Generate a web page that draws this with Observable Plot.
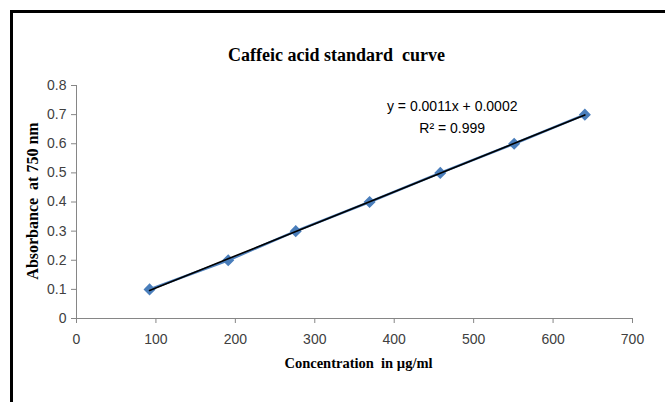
<!DOCTYPE html>
<html>
<head>
<meta charset="utf-8">
<script src="https://cdn.jsdelivr.net/npm/d3@7"></script>
<script src="https://cdn.jsdelivr.net/npm/@observablehq/plot@0.6"></script>
<style>
  html, body { margin: 0; padding: 0; background: #fff; }
  #wrap { position: relative; width: 665px; height: 402px; overflow: hidden; }
  #frame { position: absolute; left: 10px; top: 10px; width: 670px; height: 400px;
           border-left: 3px solid #000; border-top: 3px solid #000; box-sizing: border-box; pointer-events: none; }
</style>
</head>
<body>
<div id="wrap"><div id="frame"></div></div>
<script>
const concentration = [92, 191, 276, 369, 458, 551, 640];
const absorbance = [0.1, 0.2, 0.3, 0.4, 0.5, 0.6, 0.7];
const xTicks = [0, 100, 200, 300, 400, 500, 600, 700];
const yTicks = [0, 0.1, 0.2, 0.3, 0.4, 0.5, 0.6, 0.7, 0.8];
const titleText = ["Caffeic acid standard  curve"];
const xLabel = ["Concentration  in µg/ml"];
const yLabel = ["Absorbance  at 750 nm"];
const equationText = ["y = 0.0011x + 0.0002"];
const r2Text = ["R² = 0.999"];

const data = concentration.map((c, i) => ({x: c, y: absorbance[i]}));

const gray = "#868686";
const labelColor = "#404040";
const serif = "'Liberation Serif', 'DejaVu Serif', serif";

const chart = Plot.plot({
  width: 665,
  height: 402,
  marginLeft: 76,
  marginRight: 33,
  marginTop: 85,
  marginBottom: 84,
  style: { fontFamily: "'Liberation Sans', Arial, sans-serif", fontSize: "14px", background: "transparent" },
  x: { domain: [0, 700] },
  y: { domain: [0, 0.8] },
  marks: [
    Plot.ruleX([0], { stroke: gray, strokeWidth: 1 }),
    Plot.ruleY([0], { stroke: gray, strokeWidth: 1 }),
    Plot.axisX({ ticks: xTicks, tickSize: 5, tickPadding: 11, stroke: gray, color: labelColor, label: null, fontSize: 14, tickFormat: d3.format("d") }),
    Plot.axisY({ ticks: yTicks, tickSize: 5, tickPadding: 5, stroke: gray, color: labelColor, label: null, fontSize: 14, tickFormat: d => d === 0 ? "0" : d3.format(".1f")(d) }),
    Plot.line(data, { x: "x", y: "y", stroke: "#4f81bd", strokeWidth: 2.5 }),
    Plot.dot(data, { x: "x", y: "y", symbol: "diamond2", r: 4.5, fill: "#4a7ebb", stroke: "#4a7ebb" }),
    Plot.linearRegressionY(data, { x: "x", y: "y", stroke: "#000", strokeWidth: 1.6, ci: 0 }),
    Plot.text(titleText, { frameAnchor: "top", dx: -18, dy: -37, text: d => d, fontFamily: serif, fontWeight: "bold", fontSize: 18, fill: "#000", textAnchor: "middle" }),
    Plot.text(xLabel, { frameAnchor: "bottom", dx: 4, dy: 49, text: d => d, fontFamily: serif, fontWeight: "bold", fontSize: 14.5, fill: "#000", textAnchor: "middle" }),
    Plot.text(yLabel, { frameAnchor: "left", dx: -44, dy: -1, rotate: -90, text: d => d, fontFamily: serif, fontWeight: "bold", fontSize: 16, fill: "#000", textAnchor: "middle" }),
    Plot.text(equationText, { x: [473], y: [0.727], text: d => d, fontSize: 14, fill: "#000" }),
    Plot.text(r2Text, { x: [473], y: [0.652], text: d => d, fontSize: 14, fill: "#000" })
  ]
});
document.getElementById("wrap").insertBefore(chart, document.getElementById("frame"));
</script>
</body>
</html>
